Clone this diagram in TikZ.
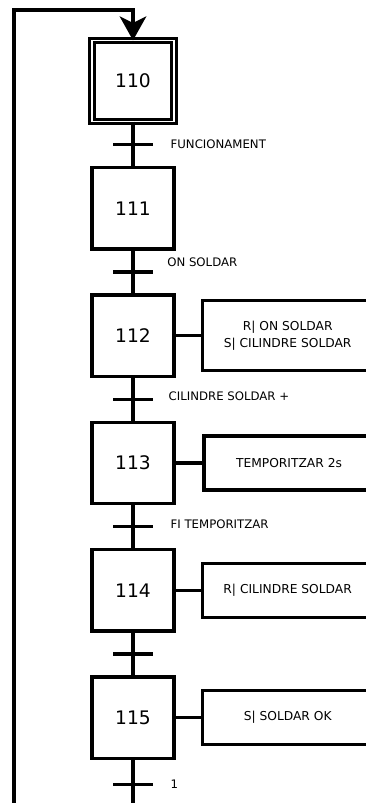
\documentclass[tikz,border=0pt]{standalone}
\usepackage{fontspec}
\setmainfont{DejaVu Sans}
\usetikzlibrary{arrows.meta,positioning,calc}

\begin{document}
\begin{tikzpicture}[
    x=0.75pt, y=-0.75pt,
    line width=2.4pt,
    node distance=34.5pt,
    stepbox/.style={rectangle, draw, line width=2.6pt, outer sep=0pt,
        minimum width=61.5pt, minimum height=61pt, font=\fontsize{14}{16}\selectfont},
    initstep/.style={stepbox, double, double distance=0.9pt, line width=2.3pt},
    actbox/.style={rectangle, draw, line width=2.6pt, outer sep=0pt, align=center,
        minimum width=127.5pt, minimum height=40.5pt, font=\fontsize{9.2}{13}\selectfont},
    trans/.style={rectangle, fill, inner sep=0pt, minimum width=30pt, minimum height=2.6pt},
    translabel/.style={font=\fontsize{8.8}{10}\selectfont, anchor=west}
]
\clip (0,0) rectangle (366,803);

% steps
\node[initstep] (s110) at (133,81) {110};
\node[stepbox] (s111) [below=of s110] {111};
\node[stepbox] (s112) [below=of s111] {112};
\node[stepbox] (s113) [below=of s112] {113};
\node[stepbox] (s114) [below=of s113] {114};
\node[stepbox] (s115) [below=of s114] {115};

% transitions
\node[trans] (t1) at ($(s110.south)!0.5!(s111.north)$) {};
\node[trans] (t2) at ($(s111.south)!0.5!(s112.north)$) {};
\node[trans] (t3) at ($(s112.south)!0.5!(s113.north)$) {};
\node[trans] (t4) at ($(s113.south)!0.5!(s114.north)$) {};
\node[trans] (t5) at ($(s114.south)!0.5!(s115.north)$) {};
\node[trans] (t6) [below=17pt of s115] {};

\node[translabel] (l1) [right=7.5pt of t1] {FUNCIONAMENT};
\node[translabel] (l2) [right=5pt of t2, yshift=7.5pt] {ON SOLDAR};
\node[translabel] (l3) [right=6pt of t3, yshift=2pt] {CILINDRE SOLDAR +};
\node[translabel] (l4) [right=7.5pt of t4, yshift=1.5pt] {FI TEMPORITZAR};
\node[translabel] (l6) [right=7.5pt of t6] {1};

% actions
\node[actbox, minimum height=52.5pt] (a112) [right=21.5pt of s112] {R| ON SOLDAR\\S| CILINDRE SOLDAR};
\node[actbox] (a113) [right=22.5pt of s113] {TEMPORITZAR 2s};
\node[actbox] (a114) [right=21.5pt of s114] {R| CILINDRE SOLDAR};
\node[actbox] (a115) [right=21.5pt of s115] {S| SOLDAR OK};

% links
\draw (s110) -- (s111);
\draw (s111) -- (s112);
\draw (s112) -- (s113);
\draw (s113) -- (s114);
\draw (s114) -- (s115);
\draw (s112.east) -- (a112.west);
\draw (s113.east) -- (a113.west);
\draw (s114.east) -- (a114.west);
\draw (s115.east) -- (a115.west);

% loop back
\coordinate (loopbot) at (133,815);
\coordinate (looptop) at (14,10);
\draw[-{Stealth[length=18pt,width=20pt,inset=5pt]}]
    (s115.south) -- (loopbot) -| (looptop) -| (s110.north);

\end{tikzpicture}
\end{document}
